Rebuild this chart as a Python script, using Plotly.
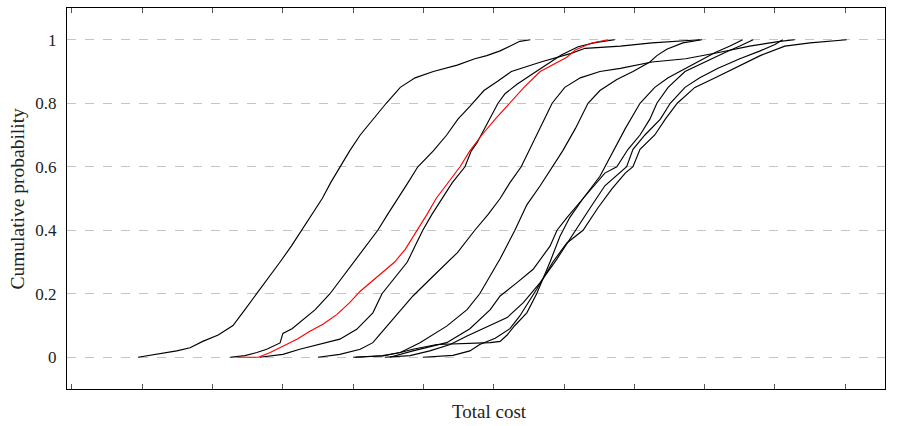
import plotly.graph_objects as go

# Empirical cumulative distributions of total cost (x in arbitrary cost units, ticks every 1)
a_x = [0.94, 1.25, 1.49, 1.68, 1.86, 2.08, 2.29, 2.46, 2.63, 2.79, 2.96, 3.12, 3.27, 3.41, 3.56, 3.68, 3.81, 3.95, 4.10, 4.28, 4.47, 4.67, 4.88, 5.14, 5.48, 5.73, 5.90, 6.09, 6.23, 6.37, 6.52]
a_p = [0, 0.01, 0.02, 0.03, 0.05, 0.07, 0.1, 0.15, 0.2, 0.25, 0.3, 0.35, 0.4, 0.45, 0.5, 0.55, 0.6, 0.65, 0.7, 0.75, 0.8, 0.85, 0.88, 0.9, 0.92, 0.94, 0.95, 0.965, 0.98, 0.995, 1.0]

b_x = [2.25, 2.46, 2.63, 2.77, 2.96, 3.00, 3.13, 3.24, 3.46, 3.67, 3.84, 4.00, 4.18, 4.35, 4.49, 4.64, 4.78, 4.92, 5.14, 5.33, 5.49, 5.66, 5.86, 6.06, 6.25, 6.67, 6.91, 7.10, 7.30, 7.80, 8.25, 8.69, 8.93]
b_p = [0, 0.005, 0.015, 0.025, 0.045, 0.075, 0.09, 0.11, 0.15, 0.2, 0.25, 0.3, 0.35, 0.4, 0.45, 0.5, 0.55, 0.6, 0.65, 0.7, 0.75, 0.79, 0.84, 0.87, 0.9, 0.93, 0.946, 0.957, 0.973, 0.98, 0.99, 0.997, 1.0]

r_x = [2.35, 2.65, 2.82, 2.96, 3.20, 3.39, 3.57, 3.77, 3.95, 4.10, 4.24, 4.38, 4.59, 4.74, 4.91, 5.05, 5.18, 5.35, 5.52, 5.66, 5.83, 6.02, 6.22, 6.43, 6.66, 6.87, 7.04, 7.16, 7.38, 7.62]
r_p = [0, 0, 0.015, 0.03, 0.057, 0.083, 0.104, 0.135, 0.172, 0.208, 0.235, 0.261, 0.3, 0.34, 0.4, 0.45, 0.5, 0.55, 0.6, 0.65, 0.7, 0.75, 0.8, 0.85, 0.9, 0.925, 0.945, 0.968, 0.989, 1.0]

c_x = [2.67, 3.00, 3.24, 3.63, 3.81, 4.05, 4.28, 4.41, 4.57, 4.77, 4.88, 4.99, 5.12, 5.26, 5.41, 5.59, 5.68, 5.76, 5.87, 5.97, 6.06, 6.16, 6.33, 6.63, 6.96, 7.20, 7.44, 7.72]
c_p = [0, 0.009, 0.025, 0.046, 0.057, 0.088, 0.14, 0.2, 0.245, 0.3, 0.35, 0.4, 0.45, 0.5, 0.55, 0.6, 0.65, 0.675, 0.72, 0.76, 0.8, 0.83, 0.86, 0.904, 0.952, 0.978, 0.991, 1.0]

d_x = [3.50, 3.81, 4.10, 4.28, 4.38, 4.57, 4.85, 5.14, 5.48, 5.73, 5.92, 6.09, 6.23, 6.39, 6.50, 6.61, 6.73, 6.83, 7.01, 7.23, 7.51, 7.80, 8.25, 8.73, 9.20, 9.64, 10.07, 10.28]
d_p = [0, 0.009, 0.025, 0.046, 0.072, 0.12, 0.193, 0.256, 0.329, 0.4, 0.45, 0.5, 0.55, 0.6, 0.65, 0.7, 0.75, 0.8, 0.85, 0.88, 0.9, 0.91, 0.93, 0.94, 0.96, 0.98, 0.995, 1.0]

e_x = [4.00, 4.42, 4.67, 4.95, 5.33, 5.62, 5.80, 6.09, 6.30, 6.47, 6.66, 6.84, 6.98, 7.16, 7.34, 7.51, 7.75, 7.98, 8.22, 8.32, 8.46, 8.69, 8.96]
e_p = [0, 0.004, 0.015, 0.046, 0.098, 0.15, 0.2, 0.31, 0.4, 0.48, 0.54, 0.6, 0.65, 0.72, 0.8, 0.84, 0.875, 0.9, 0.93, 0.95, 0.97, 0.99, 1.0]

f_x = [4.52, 4.85, 5.33, 5.66, 5.95, 6.09, 6.33, 6.56, 6.80, 6.90, 7.04, 7.27, 7.51, 7.68, 7.87, 8.08, 8.29, 8.48, 8.65, 8.89, 9.15, 9.36, 9.54]
f_p = [0, 0.02, 0.046, 0.09, 0.15, 0.193, 0.235, 0.277, 0.35, 0.4, 0.44, 0.5, 0.57, 0.64, 0.72, 0.8, 0.85, 0.88, 0.9, 0.93, 0.96, 0.98, 1.0]

g_x = [4.03, 4.42, 4.67, 4.85, 5.19, 5.52, 5.95, 6.09, 6.19, 6.30, 6.47, 6.61, 6.80, 6.94, 7.08, 7.27, 7.47, 7.58, 7.75, 7.91, 8.08, 8.22, 8.32, 8.48, 8.72, 9.00, 9.29, 9.50, 9.69]
g_p = [0, 0.005, 0.015, 0.025, 0.04, 0.043, 0.046, 0.05, 0.07, 0.1, 0.14, 0.2, 0.3, 0.38, 0.44, 0.5, 0.55, 0.58, 0.6, 0.655, 0.7, 0.75, 0.8, 0.85, 0.9, 0.93, 0.96, 0.98, 1.0]

h_x = [4.45, 4.81, 5.09, 5.38, 5.62, 5.95, 6.19, 6.42, 6.66, 6.90, 7.13, 7.37, 7.58, 7.89, 7.98, 8.15, 8.37, 8.51, 8.72, 8.93, 9.19, 9.50, 9.79, 10.00, 10.11]
h_p = [0, 0.005, 0.02, 0.04, 0.067, 0.1, 0.125, 0.172, 0.235, 0.31, 0.39, 0.47, 0.54, 0.6, 0.655, 0.7, 0.75, 0.8, 0.85, 0.88, 0.91, 0.94, 0.965, 0.985, 1.0]

i_x = [4.99, 5.42, 5.66, 5.80, 6.02, 6.23, 6.37, 6.61, 6.84, 7.04, 7.27, 7.48, 7.68, 7.87, 7.98, 8.08, 8.29, 8.44, 8.61, 8.86, 9.15, 9.43, 9.79, 10.14, 10.50, 11.02]
i_p = [0, 0.006, 0.02, 0.04, 0.06, 0.09, 0.13, 0.214, 0.3, 0.36, 0.4, 0.47, 0.53, 0.58, 0.6, 0.655, 0.7, 0.75, 0.8, 0.85, 0.88, 0.91, 0.95, 0.98, 0.99, 1.0]

series = [
    (a_x, a_p, "black"), (b_x, b_p, "black"), (c_x, c_p, "black"),
    (d_x, d_p, "black"), (e_x, e_p, "black"), (f_x, f_p, "black"),
    (g_x, g_p, "black"), (h_x, h_p, "black"), (i_x, i_p, "black"),
    (r_x, r_p, "#ff0000"),
]

y_ticks = [0, 0.2, 0.4, 0.6, 0.8, 1]
y_tick_text = ["0", "0.2", "0.4", "0.6", "0.8", "1"]
x_ticks = list(range(0, 12))

FONT = "Liberation Serif"

fig = go.Figure()
for xs, ps, col in series:
    fig.add_trace(go.Scatter(x=xs, y=ps, mode="lines",
                             line=dict(color=col, width=1.15),
                             showlegend=False, hoverinfo="skip"))

fig.update_layout(
    width=903, height=426,
    margin=dict(l=67, r=18, t=8, b=37),
    paper_bgcolor="white", plot_bgcolor="white",
    font=dict(family=FONT, size=17, color="#222"),
    showlegend=False,
)
fig.update_xaxes(
    range=[-0.071, 11.565],
    tickvals=x_ticks, showticklabels=False,
    ticks="inside", ticklen=5, tickcolor="#555", tickwidth=1,
    showline=True, linecolor="black", linewidth=1, mirror="ticks",
    showgrid=False, zeroline=False,
)
fig.update_yaxes(
    range=[-0.1, 1.1],
    tickvals=y_ticks, ticktext=y_tick_text,
    tickfont=dict(family=FONT, size=17, color="#222"),
    ticks="", ticklabelstandoff=6,
    showline=True, linecolor="black", linewidth=1, mirror=True,
    showgrid=True, gridcolor="#c4c4c4", griddash="dash", gridwidth=1,
    zeroline=False,
)
fig.add_annotation(text="Total cost", xref="paper", yref="paper",
                   x=0.517, y=-0.058, xanchor="center", yanchor="middle",
                   showarrow=False, font=dict(family=FONT, size=19, color="#222"))
fig.add_annotation(text="Cumulative probability", xref="paper", yref="paper",
                   x=-0.061, y=0.5, xanchor="center", yanchor="middle", textangle=-90,
                   showarrow=False, font=dict(family=FONT, size=19.5, color="#222"))

fig.write_html("out.html")
